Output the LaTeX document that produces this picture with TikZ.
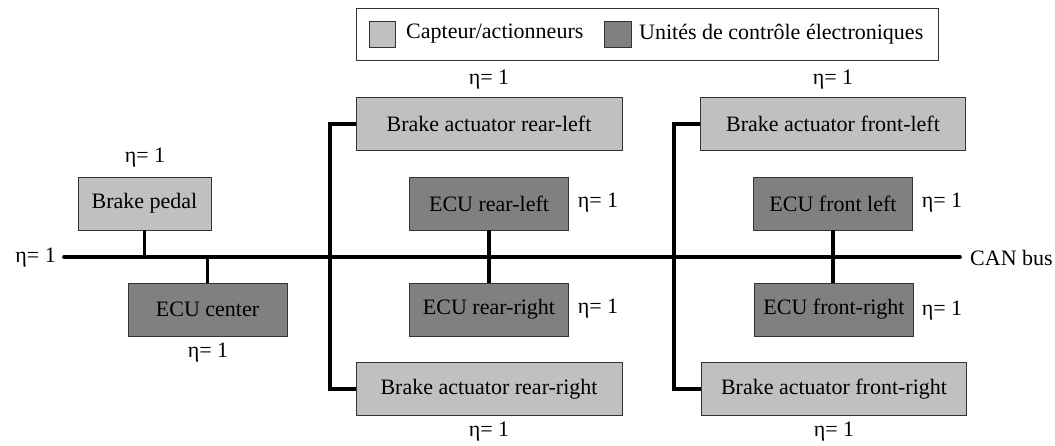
\documentclass[tikz,border=0pt]{standalone}
\usepackage{fontspec}
\setmainfont{Liberation Serif}
\begin{document}
\begin{tikzpicture}[x=1pt,y=-1pt,
  every node/.style={font=\fontsize{22}{24}\selectfont, inner sep=0pt},
  sensor/.style={draw=black!80, line width=0.9pt, fill=lightg, minimum height=53pt},
  ecu/.style={draw=black!80, line width=0.9pt, fill=darkg, minimum height=53pt},
  wire/.style={line width=3.6pt, line join=miter}]
\definecolor{lightg}{HTML}{C0C0C0}
\definecolor{darkg}{HTML}{808080}
\useasboundingbox (0,0) rectangle (1055,445);
% legend
\node[draw=black!80, line width=0.9pt, minimum width=582pt, minimum height=52pt] (legend) at (647,34) {};
\node[sensor, minimum width=26pt, minimum height=26pt] (swl) at (382,34) {};
\node[anchor=west] (txl) at (406,34) {Capteur/actionneurs};
\node[ecu, minimum width=27pt, minimum height=26pt] (swd) at (618,34) {};
\node[anchor=west] (txd) at (639,34) {Unités de contrôle électroniques};
% bus
\coordinate (busL) at (64,257);
\coordinate (busR) at (960,257);
\draw[wire, line cap=round] (busL) -- (busR);
\node[anchor=east] (etaL) at (56,258) {η= 1};
\node[anchor=west] (can) at (970,258) {CAN bus};
% nodes
\node[sensor, minimum width=133pt] (pedal) at (144.5,203.5) {Brake pedal};
\node[ecu, minimum width=159pt] (ecuc) at (207.5,309.5) {ECU center};
\node[sensor, minimum width=266pt] (barl) at (489,124) {Brake actuator rear-left};
\node[ecu, minimum width=159pt] (ecurl) at (489,203.5) {ECU rear-left};
\node[ecu, minimum width=159pt] (ecurr) at (489,309.5) {ECU rear-right};
\node[sensor, minimum width=266pt] (barr) at (489,389) {Brake actuator rear-right};
\node[sensor, minimum width=265pt] (bafl) at (833,124) {Brake actuator front-left};
\node[ecu, minimum width=159pt] (ecufl) at (833,203.5) {ECU front left};
\node[ecu, minimum width=159pt] (ecufr) at (834,309.5) {ECU front-right};
\node[sensor, minimum width=265pt] (bafr) at (834,389) {Brake actuator front-right};
% eta labels
\node (e1) at (145,158) {η= 1};
\node (e2) at (208,353) {η= 1};
\node (e3) at (489,80) {η= 1};
\node (e4) at (598,203) {η= 1};
\node (e5) at (598,309) {η= 1};
\node (e6) at (489,432) {η= 1};
\node (e7) at (833,80) {η= 1};
\node (e8) at (942,203) {η= 1};
\node (e9) at (942,311) {η= 1};
\node (e10) at (834,432) {η= 1};
% connectors
\coordinate (vL) at (330,0);
\coordinate (vR) at (674,0);
\draw[wire] (pedal.south) -- (pedal.south |- busL);
\draw[wire] (ecuc.north) -- (ecuc.north |- busL);
\draw[wire] (ecurl.south) -- (ecurr.north);
\draw[wire] (ecufl.south) -- (ecufl.south |- ecufr.north);
\draw[wire] (barl.west) -- (barl.west -| vL) -- (barr.west -| vL) -- (barr.west);
\draw[wire] (bafl.west) -- (bafl.west -| vR) -- (bafr.west -| vR) -- (bafr.west);
\end{tikzpicture}
\end{document}
